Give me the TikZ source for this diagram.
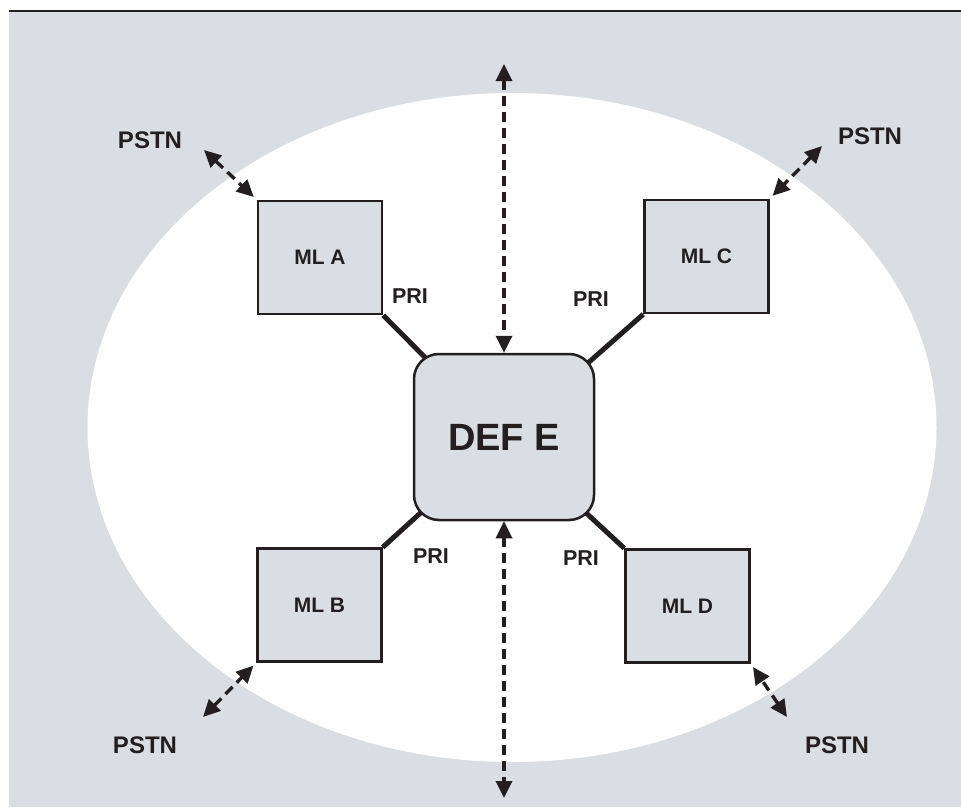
\documentclass[tikz,border=0pt]{standalone}
\usepackage{fontspec}
\setmainfont{Liberation Sans}
\usetikzlibrary{arrows.meta}
\definecolor{bggray}{RGB}{218,221,226}
\definecolor{ink}{RGB}{35,31,32}
\pgfdeclarelayer{bg}
\pgfdeclarelayer{mid}
\pgfsetlayers{bg,mid,main}
\tikzset{
  mlbox/.style={draw=ink, line width=2.5pt, fill=bggray, minimum width=124pt, minimum height=113pt, inner sep=0pt,
    font=\bfseries\fontsize{21}{24}\selectfont, text=ink},
  hub/.style={draw=ink, line width=2.5pt, fill=bggray, rounded corners=25pt, minimum width=180pt, minimum height=166pt,
    inner sep=0pt, font=\bfseries\fontsize{38}{44}\selectfont, text=ink},
  lbl/.style={font=\bfseries\fontsize{21.5}{25}\selectfont, text=ink, inner sep=0pt},
  pstn/.style={font=\bfseries\fontsize{24}{28}\selectfont, text=ink, inner sep=0pt},
  prilink/.style={draw=ink, line width=5pt},
  dlink/.style={draw=ink, line width=3.4pt, dash pattern=on 10pt off 6pt,
    {Triangle[length=17pt,width=16pt]}-{Triangle[length=17pt,width=16pt]}},
}
\begin{document}
\begin{tikzpicture}[x=1pt,y=-1pt]
\useasboundingbox (0,0) rectangle (961,808);
% nodes
\node[hub] (def) at (504,437) {DEF E};
\node[mlbox] (mla) at (320,257.5) {ML A};
\node[mlbox] (mlc) at (706.5,256.5) {ML C};
\node[mlbox] (mlb) at (319.5,605) {ML B};
\node[mlbox] (mld) at (687.5,606) {ML D};
% labels
\node[lbl] (pria) at (410,296) {PRI};
\node[lbl] (pric) at (591,299) {PRI};
\node[lbl] (prib) at (431,556) {PRI};
\node[lbl] (prid) at (581,558) {PRI};
\node[pstn] (ptl) at (150,140) {PSTN};
\node[pstn] (ptr) at (870,136) {PSTN};
\node[pstn] (pbl) at (145,745) {PSTN};
\node[pstn] (pbr) at (837,745) {PSTN};
% free ends
\coordinate (etop) at (504,64);
\coordinate (ebot) at (504,798);
\coordinate (etl) at (204,150);
\coordinate (etr) at (822,146);
\coordinate (ebl) at (203,717);
\coordinate (ebr) at (787,717);
% dashed arrows
\draw[dlink] (etop) -- (def.north);
\draw[dlink] (def.south) -- (ebot);
\draw[dlink, shorten >=4pt] (etl) -- (mla.north west);
\draw[dlink, shorten >=4pt] (etr) -- (mlc.north east);
\draw[dlink, shorten >=4pt] (ebl) -- (mlb.south west);
\draw[dlink, shorten >=4pt] (ebr) -- (mld.south east);
% PRI links
\begin{pgfonlayer}{mid}
\draw[prilink] (mla.south east) -- (def.center);
\draw[prilink] (mlc.south west) -- (def.center);
\draw[prilink] (mlb.north east) -- (def.center);
\draw[prilink] (mld.north west) -- (def.center);
\end{pgfonlayer}
% background
\begin{pgfonlayer}{bg}
\fill[bggray] (9,12) rectangle (961,807);
\fill[ink] (9,9.8) rectangle (961,12.4);
\fill[white] (512,427.5) ellipse [x radius=424.5, y radius=334.5];
\end{pgfonlayer}
\end{tikzpicture}
\end{document}
